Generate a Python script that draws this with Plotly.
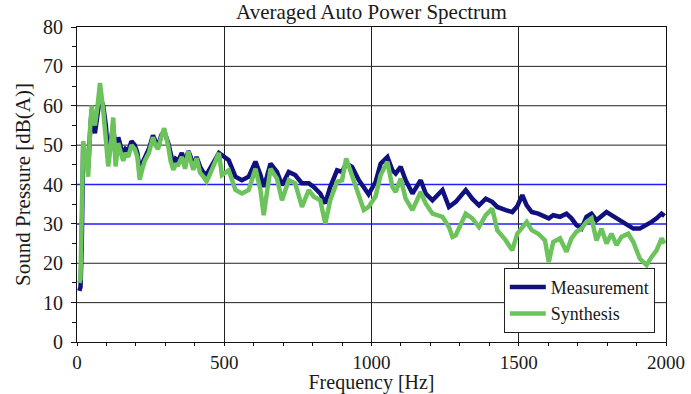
import plotly.graph_objects as go

# ---- data (frequency in Hz, level in dB(A)) ----
freq_low = [8, 12, 16, 21, 30, 38, 45, 50, 55, 61, 70, 78, 89, 98, 106, 115, 123, 131, 140, 149,
            157, 165, 174, 185, 196, 205, 213, 222, 230, 244, 258, 266, 275, 286, 296, 310, 318,
            327, 335, 344, 356, 367, 378, 386, 395, 406, 418, 429, 440, 448, 457, 470, 482, 492]
meas_low = [13, 14, 24, 50, 46, 44, 54, 59, 56, 53, 58, 62, 60, 55, 47, 52, 55, 47, 52, 49.5,
            47.5, 49, 48.5, 51, 50, 48, 43.5, 45.5, 47, 49, 52.5, 51, 49.5, 52.5, 53.5, 50.5, 47.5,
            45, 46.5, 46, 48, 45.5, 48.5, 47, 44.5, 47, 44.5, 43, 42.5, 43.5, 44.5, 46.5, 48, 47.5]
synth_low = [15, 16, 32, 51, 47, 42, 55, 60, 57, 55, 60, 65.8, 59, 52, 44.6, 50, 57, 44.6, 50.5, 48,
             46, 48, 47, 50, 49, 47, 41.2, 44, 46, 48, 52, 50, 49, 52, 54.3, 49.7, 46,
             43.7, 45, 45, 47, 44, 48.4, 46, 43.7, 46.7, 43, 42, 40.8, 42, 43.7, 45.5, 48, 42.4]

freq_mid1 = [515, 538, 560, 583, 606, 623, 634, 645, 657, 679, 696, 719, 741, 764, 787, 804, 826,
             843, 860, 883, 900, 914, 934, 957, 974, 990]
meas_mid1 = [46.2, 42, 41.1, 42, 45.8, 42.4, 39.4, 42, 45.3, 43.2, 39.8, 43.2, 42.4, 40.3, 40.3,
             39.4, 37.7, 35.2, 39.4, 43.6, 43.2, 45.3, 44.5, 41.1, 39, 37.5]
synth_mid1 = [43.6, 38.6, 37.7, 38.6, 44, 38.6, 32.2, 38, 44, 41.5, 36, 41.1, 40.3, 34.3, 38.6,
              36.9, 36, 30.1, 36, 40.7, 41.1, 46.6, 42, 36.9, 33.5, 34.3]

freq_mid2 = [1014, 1031, 1054, 1071, 1082, 1099, 1116, 1139, 1167, 1184, 1207, 1241, 1263, 1275,
             1286, 1320, 1342, 1365, 1388, 1410, 1427, 1456, 1478, 1495]
meas_mid2 = [40.7, 45.3, 47, 43.6, 42.8, 44.5, 41.1, 37.7, 41.1, 37.7, 36, 38.6, 34.3, 35,
             35.6, 38.6, 36.4, 34.7, 36.4, 35.6, 34.3, 33.5, 33, 34.5]
synth_mid2 = [37, 42.4, 45.8, 39.4, 38.1, 41.5, 36.4, 33.5, 38.1, 35.2, 32.6, 31.8, 29.2, 26.7,
              27.1, 32.6, 31.4, 29.2, 32.2, 33.9, 28.4, 25.8, 23.3, 27.5]

freq_high = [1512, 1527, 1544, 1566, 1589, 1602, 1617, 1640, 1662, 1679, 1696, 1713, 1730, 1747,
             1764, 1781, 1798, 1815, 1832, 1849, 1872, 1889, 1911, 1934, 1951, 1968, 1985, 1995]
meas_high = [37.3, 34.7, 33, 32.6, 31.8, 31.4, 32.2, 31.8, 32.6, 31.4, 29.7, 28.8, 31.8, 32.6,
             30.9, 31.8, 33, 32.2, 31.4, 30.9, 29.7, 28.8, 28.8, 29.7, 30.5, 31.4, 32.6, 32]
synth_high = [29.2, 30.5, 28.4, 27.5, 25.8, 20.3, 25.4, 26.3, 22.9, 26.3, 28, 28.8, 30.5, 31.4,
              25.8, 28.8, 25, 27.5, 24.6, 26.7, 27.5, 25.4, 21.2, 19.5, 21.6, 23.3, 26.3, 25]

limit_levels = [30, 40]
x_ticks = [0, 500, 1000, 1500, 2000]
y_ticks = [0, 10, 20, 30, 40, 50, 60, 70, 80]

freq = freq_low + freq_mid1 + freq_mid2 + freq_high
measurement = meas_low + meas_mid1 + meas_mid2 + meas_high
synthesis = synth_low + synth_mid1 + synth_mid2 + synth_high

FONT = "Liberation Serif"
TXT = "#1a1a1a"
fig = go.Figure()
fig.add_trace(go.Scatter(x=freq, y=measurement, mode="lines", name="Measurement",
                         line=dict(color="#10107e", width=4.5)))
fig.add_trace(go.Scatter(x=freq, y=synthesis, mode="lines", name="Synthesis",
                         line=dict(color="#6cc35c", width=4.5)))

# horizontal grid lines (black) and the blue reference levels, drawn under the curves
for lv in y_ticks[1:-1]:
    is_limit = lv in limit_levels
    fig.add_shape(type="line", xref="paper", x0=0, x1=1, yref="y", y0=lv, y1=lv,
                  line=dict(color="#1f1fff" if is_limit else "#222",
                            width=1.5 if is_limit else 1),
                  layer="below")

fig.update_layout(
    width=691, height=394,
    margin=dict(l=77, r=25, t=27, b=52, autoexpand=False),
    paper_bgcolor="white", plot_bgcolor="white",
    font=dict(family=FONT, size=20, color=TXT),
    title=dict(text="Averaged Auto Power Spectrum", x=0.5, xref="paper", xanchor="center",
               y=(394 - 12) / 394, yref="container", yanchor="middle",
               font=dict(family=FONT, size=21, color=TXT)),
    showlegend=True,
    legend=dict(x=0.981, y=0.029, xanchor="right", yanchor="bottom",
                bgcolor="white", bordercolor="#222", borderwidth=1,
                font=dict(family=FONT, size=18, color=TXT), tracegroupgap=0,
                itemwidth=36),
)
fig.update_xaxes(range=[0, 2000], tickvals=x_ticks, showgrid=True, gridcolor="#222", gridwidth=1,
                 showline=True, linecolor="#111", linewidth=1, mirror=True,
                 ticks="outside", ticklen=3, tickcolor="#111", automargin=False,
                 tickfont=dict(family=FONT, size=19, color=TXT),
                 minor=dict(dtick=100, ticks="outside", ticklen=3, tickcolor="#111", showgrid=False),
                 title=dict(text="Frequency [Hz]", standoff=3,
                            font=dict(family=FONT, size=20, color=TXT)),
                 zeroline=False)
fig.update_yaxes(range=[0, 80], tickvals=y_ticks, showgrid=False,
                 showline=True, linecolor="#111", linewidth=1, mirror=True,
                 ticks="outside", ticklen=5, tickcolor="#111", automargin=False,
                 tickfont=dict(family=FONT, size=20, color=TXT), ticklabelstandoff=4,
                 minor=dict(dtick=5, ticks="outside", ticklen=4, tickcolor="#111", showgrid=False),
                 title=dict(text="Sound Pressure [dB(A)]", standoff=6,
                            font=dict(family=FONT, size=21, color=TXT)),
                 zeroline=False)

fig.write_html("out.html")
